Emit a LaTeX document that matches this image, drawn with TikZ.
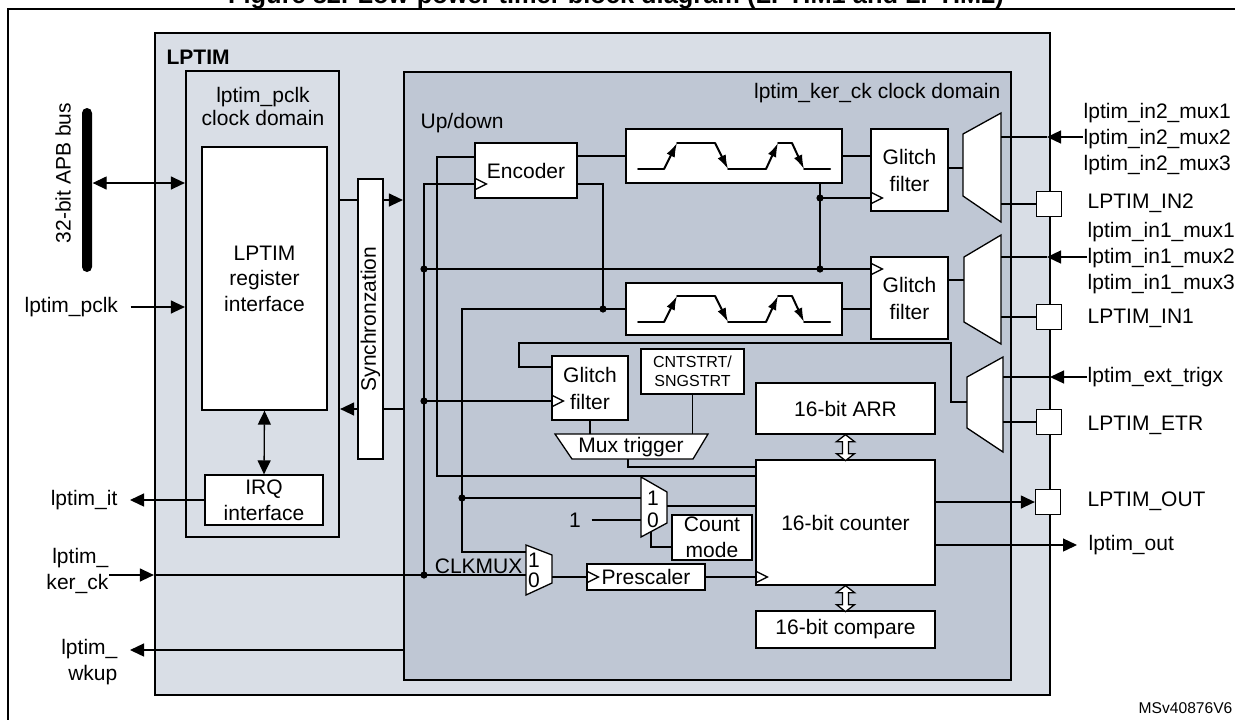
\documentclass[tikz,border=0pt]{standalone}
\usepackage{fontspec}
\setmainfont{Liberation Sans}
\usepackage{xcolor}
\usetikzlibrary{arrows.meta}
\definecolor{lptimfill}{RGB}{217,222,230}
\definecolor{kerfill}{RGB}{191,199,212}

\begin{document}
\begin{tikzpicture}[x=0.5pt, y=-0.5pt, line width=0.65pt,
        every node/.style={font=\fontsize{10.5}{12.8}\selectfont, inner sep=0pt},
        box/.style={draw, fill=white},
        clkdomain/.style={draw, line width=1.1pt},
        gfbox/.style={box, align=center, font=\fontsize{10.5}{13.5}\selectfont},
        pad/.style={box, minimum size=12.5pt},
        mux/.style={draw, fill=white},
        sigarrow/.style={-{Triangle[length=7pt,width=6.5pt]}},
        sigboth/.style={{Triangle[length=7pt,width=6.5pt]}-{Triangle[length=7pt,width=6.5pt]}},
        wave/.style={line width=1pt, line cap=round},
        waveedge/.style={line width=1pt, -{Latex[length=7pt,width=4.5pt]}}]
            \useasboundingbox (0,0) rectangle (1235,719);

            \node[font=\bfseries\fontsize{12.7}{15}\selectfont, anchor=base] (title) at (616,3.5)
                {Figure 82. Low-power timer block diagram (LPTIM1 and LPTIM2)};
            \draw[line width=1pt] (8,9) rectangle (1245,735);

            \node[clkdomain, fill=lptimfill, minimum width=447.5pt, minimum height=331pt] (lptim) at (602.5,364) {};
            \node[font=\bfseries\fontsize{10.5}{12.8}\selectfont, anchor=west] (lptimlbl) at (166,57) {LPTIM};
            \node[clkdomain, fill=lptimfill, minimum width=76.5pt, minimum height=233pt] (pclk) at (262.5,304) {};
            \node[align=center, font=\fontsize{10.5}{11.5}\selectfont] (pclklbl) at (263,106) {lptim\_pclk\\clock domain};
            \node[box, minimum width=62.5pt, minimum height=131.5pt, align=center] (reg) at (264.5,278.5) {LPTIM\\register\\interface};
            \node[box, minimum width=59pt, minimum height=25pt, align=center] (irq) at (264,500) {IRQ\\interface};
            \node[box, minimum width=12.5pt, minimum height=140pt] (sync) at (370.5,319) {};
            \node[rotate=90] (synclbl) at (sync.center) {Synchronzation};

            \node[clkdomain, fill=kerfill, minimum width=303.5pt, minimum height=304pt] (ker) at (707.5,376) {};
            \node[anchor=east] (kerlbl) at (1001,93) {lptim\_ker\_ck clock domain};
            \node[anchor=west] (updown) at (420,123) {Up/down};

            \node[box, minimum width=51pt, minimum height=27.5pt] (enc) at (526,170.5) {Encoder};
            \node[box, minimum width=108pt, minimum height=27pt] (ed1) at (734,156) {};
            \node[box, minimum width=108pt, minimum height=26pt] (ed2) at (734,309) {};
            \node[gfbox, minimum width=38.5pt, minimum height=41pt] (gf1) at (909.5,170) {Glitch\\filter};
            \node[gfbox, minimum width=38.5pt, minimum height=41pt] (gf2) at (909.5,298) {Glitch\\filter};
            \node[gfbox, minimum width=38pt, minimum height=32pt] (gf3) at (590,388) {Glitch\\filter};
            \node[box, minimum width=51.5pt, minimum height=22.5pt, align=center, font=\fontsize{8}{9.5}\selectfont] (start) at (692.5,371.5) {CNTSTRT/\\SNGSTRT};
            \node[box, minimum width=89.5pt, minimum height=25.5pt] (arrreg) at (845.5,408.5) {16-bit ARR};
            \node[box, minimum width=89.5pt, minimum height=62.5pt] (cnt) at (845.5,522.5) {16-bit counter};
            \node[box, minimum width=89.5pt, minimum height=18.5pt] (cmp) at (845.5,629.5) {16-bit compare};
            \node[box, minimum width=40pt, minimum height=22.5pt, align=center] (cmode) at (712,537.5) {Count\\mode};
            \node[box, minimum width=59pt, minimum height=13pt] (presc) at (646,577) {Prescaler};

            \draw[mux] (963,134) -- (1001,113) -- (1001,222) -- (963,196) -- cycle;
            \draw[mux] (964,257) -- (1001,235) -- (1001,344) -- (964,322) -- cycle;
            \draw[mux] (967,377) -- (1003,357) -- (1003,452) -- (967,428) -- cycle;
            \draw[mux] (641,477) -- (667,492) -- (667,523) -- (641,537) -- cycle;
            \draw[mux] (526,545) -- (552,555) -- (552,583) -- (526,595) -- cycle;
            \draw[mux] (555,434) -- (708,434) -- (693,459) -- (572,459) -- cycle;
            \node (mtrig) at (631,447) {Mux trigger};
            \node (m4one) at (653,498) {1};
            \node (m4zero) at (653,520) {0};
            \node (cmone) at (534,560) {1};
            \node (cmzero) at (534,580) {0};
            \node[anchor=east] (clkmuxlbl) at (523,566) {CLKMUX};
            \node (onein) at (575,520) {1};

            \coordinate (m1o) at (963,168);
            \coordinate (m1a) at (1001,137);
            \coordinate (m1b) at (1001,204);
            \coordinate (m2o) at (964,280);
            \coordinate (m2a) at (1001,257);
            \coordinate (m2b) at (1001,317);
            \coordinate (m3o) at (967,402);
            \coordinate (m3a) at (1003,377);
            \coordinate (m3b) at (1003,422);
            \coordinate (m4a) at (641,498);
            \coordinate (m4b) at (641,520);
            \coordinate (m4o) at (667,506);
            \coordinate (m4s) at (651,532);
            \coordinate (cma) at (526,552);
            \coordinate (cmb) at (526,575);
            \coordinate (cmo) at (552,577);
            \coordinate (mt1) at (590,434);
            \coordinate (mtb) at (628,459);

            \node[pad] (pin2) at (1049,204) {};
            \node[pad] (pin1) at (1049,317) {};
            \node[pad] (petr) at (1049,422) {};
            \node[pad] (pout) at (1048,502) {};
            \node[anchor=west] (in2lbl) at (1087,203) {LPTIM\_IN2};
            \node[anchor=west] (in1lbl) at (1087,318) {LPTIM\_IN1};
            \node[anchor=west] (etrlbl) at (1087,425) {LPTIM\_ETR};
            \node[anchor=west] (outlbl) at (1087,501) {LPTIM\_OUT};
            \node[anchor=west, align=left] (in2mux) at (1083,139) {lptim\_in2\_mux1\\lptim\_in2\_mux2\\lptim\_in2\_mux3};
            \node[anchor=west, align=left] (in1mux) at (1087,258) {lptim\_in1\_mux1\\lptim\_in1\_mux2\\lptim\_in1\_mux3};
            \node[anchor=west] (etrin) at (1087,377) {lptim\_ext\_trigx};
            \node[anchor=west] (lout) at (1088,545) {lptim\_out};
            \node[font=\fontsize{7.8}{9}\selectfont, anchor=east] (msref) at (1233,708) {MSv40876V6};

            \node[rotate=90] (buslbl) at (63,173) {32-bit APB bus};
            \node[fill=black, rounded corners=2.5pt, minimum width=5pt, minimum height=82pt] (bus) at (87,190) {};
            \node[anchor=west] (pclkin) at (24,307) {lptim\_pclk};
            \node[anchor=east] (itout) at (118,500) {lptim\_it};
            \node[anchor=east, align=right] (kerin) at (109,571) {lptim\_\\ker\_ck};
            \node[anchor=east, align=right] (wkup) at (118,662) {lptim\_\\wkup};

            \coordinate (ja1) at (424,269);
            \coordinate (ja2) at (424,401);
            \coordinate (kck) at (424,575);
            \coordinate (jb) at (462,498);
            \coordinate (jc) at (603,309);
            \coordinate (jd1) at (820,198);
            \coordinate (jd2) at (820,269);
            \coordinate (itend) at (130,500);
            \coordinate (wkend) at (130,650);
            \coordinate (loutend) at (1077,545);
            \coordinate (in2tip) at (1047,137);
            \coordinate (in1tip) at (1047,257);
            \coordinate (etrtip) at (1050,377);

            \draw[sigboth] (bus.east |- 0,183) -- (pclk.west |- 0,183);
            \draw[sigarrow] ([xshift=6pt]pclkin.east) -- (pclk.west |- pclkin.east);
            \draw[sigarrow] (irq.west) -- (itend);
            \draw[sigarrow] (kerin.east |- kck) -- (lptim.west |- kck);
            \draw (lptim.west |- kck) -- (kck) -- (cmb);
            \draw[sigarrow] (ker.west |- wkend) -- (wkend);
            \draw[sigboth] (reg.south) -- (irq.north);
            \draw (pclk.east |- 0,200) -- (sync.west |- 0,200);
            \draw[sigarrow] (sync.east |- 0,200) -- (ker.west |- 0,200);
            \draw (ker.west |- 0,409) -- (sync.east |- 0,409);
            \draw[sigarrow] (sync.west |- 0,409) -- (pclk.east |- 0,409);

            \draw (enc.west |- 0,184) -| (kck);
            \draw (ja1) -- (gf2.west |- ja1);
            \draw (ja2) -- (gf3.west |- ja2);
            \draw (enc.west |- 0,157) -| (437,476) -- (cnt.west |- 0,476);
            \draw (ed2.west) -| (462,552) -- (cma);
            \draw (enc.east |- 0,184) -| (jc);
            \draw (jb) -- (m4a);
            \draw (enc.east |- ed1.west) -- (ed1.west);
            \draw (ed1.east) -- (gf1.west |- ed1.east);
            \draw (ed1.south -| jd1) -- (jd2);
            \draw (jd1) -- (gf1.west |- jd1);
            \draw (ed2.east) -- (gf2.west |- ed2.east);
            \draw (gf1.east |- m1o) -- (m1o);
            \draw (gf2.east |- m2o) -- (m2o);
            \draw (m3o) -| (951,343) -| (519,367) -- (gf3.west |- 0,367);
            \draw (gf3.south) -- (mt1);
            \draw (start.south) -- (start.south |- mt1);
            \draw (mtb) |- (cnt.west |- 0,467);
            \draw (m4o) -- (cnt.west |- m4o);
            \draw ([xshift=5pt]onein.east) -- (m4b);
            \draw (m4s) |- (cmode.west |- 0,547);
            \draw (cmo) -- (presc.west |- cmo);
            \draw (presc.east) -- (cnt.west |- presc.east);
            \draw[sigarrow] (cnt.east |- pout) -- (pout.west);
            \draw[sigarrow] (cnt.east |- loutend) -- (loutend);

            \draw (pin2.west) -- (m1b);
            \draw (pin1.west) -- (m2b);
            \draw (petr.west) -- (m3b);
            \draw[sigarrow] (in2mux.west |- in2tip) -- (in2tip);
            \draw (in2tip) -- (m1a);
            \draw[sigarrow] (in1mux.west |- in1tip) -- (in1tip);
            \draw (in1tip) -- (m2a);
            \draw[sigarrow] (etrin.west |- etrtip) -- (etrtip);
            \draw (etrtip) -- (m3a);

            \foreach \n/\y in {enc/184, gf1/198, gf2/269, gf3/401, presc/577, cnt/577}
                \draw (\n.west |- 0,\y) ++(0,-6) -- ++(12,6) -- ++(-12,6);

            \foreach \n in {arrreg, cnt}
                \draw[fill=white, shift={(\n.south)}] (0,0) -- (9,7) -- (3,7) -- (3,19) -- (9,19) -- (0,26)
                    -- (-9,19) -- (-3,19) -- (-3,7) -- (-9,7) -- cycle;

            \foreach \ed in {ed1, ed2} {
                \begin{scope}[shift={(\ed.center)}]
                    \draw[wave] (-96,13) -- (-70,13) (-57,-13) -- (-19,-13) (-6,13) -- (32,13)
                        (44,-13) -- (58,-13) (70,13) -- (96,13);
                    \draw[waveedge] (-70,13) -- (-57,-13);
                    \draw[waveedge] (-19,-13) -- (-6,13);
                    \draw[waveedge] (32,13) -- (44,-13);
                    \draw[waveedge] (58,-13) -- (70,13);
                \end{scope}
            }

            \foreach \c in {ja1, ja2, kck, jb, jc, jd1, jd2}
                \fill (\c) circle (1.8pt);
        \end{tikzpicture}
\end{document}
